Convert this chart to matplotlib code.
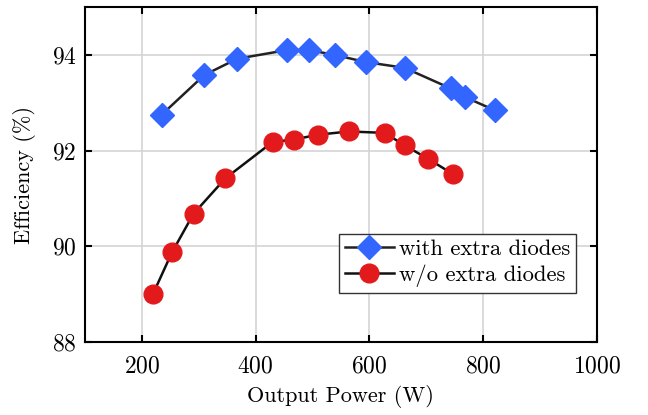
import matplotlib
matplotlib.use("Agg")
import matplotlib.pyplot as plt

# data --------------------------------------------------------------
power_with = [235, 310, 368, 455, 494, 539, 594, 662, 743, 768, 821]
eff_with = [92.75, 93.58, 93.92, 94.10, 94.10, 94.00, 93.85, 93.73, 93.30, 93.12, 92.84]

power_wo = [220, 253, 291, 347, 430, 467, 509, 564, 627, 662, 703, 747]
eff_wo = [89.01, 89.87, 90.68, 91.42, 92.18, 92.23, 92.33, 92.40, 92.37, 92.11, 91.83, 91.51]

x_ticks = [200, 400, 600, 800, 1000]
y_ticks = [88, 90, 92, 94]

plt.rcParams['font.family'] = 'serif'
plt.rcParams['font.serif'] = ['cmr10']
plt.rcParams['mathtext.fontset'] = 'cm'
plt.rcParams['axes.formatter.use_mathtext'] = True

fig = plt.figure(figsize=(6.48, 4.15), dpi=100)
ax = fig.add_axes([0.131, 0.176, 0.790, 0.807])

ax.plot(power_with, eff_with, color='#222222', lw=1.8, marker='D', ms=12,
        mfc='#3366ff', mec='#3366ff', label='with extra diodes', zorder=3)
ax.plot(power_wo, eff_wo, color='#111111', lw=1.8, marker='o', ms=13.5,
        mfc='#e31a1c', mec='#e31a1c', label='w/o extra diodes', zorder=3)

ax.set_xlim(100, 1000)
ax.set_ylim(88, 95)
ax.set_xticks(x_ticks)
ax.set_yticks(y_ticks)
ax.grid(True, color='#d4d4d4', lw=1.2)
ax.set_axisbelow(True)
ax.tick_params(direction='in', top=True, right=True, length=5, width=1.5,
               labelsize=17)
ax.tick_params(axis='x', pad=10)
ax.tick_params(axis='y', pad=6)
for s in ax.spines.values():
    s.set_linewidth(1.5)

ax.set_xlabel('Output Power (W)', fontsize=16, labelpad=5)
ax.set_ylabel('Efficiency (%)', fontsize=16, labelpad=11)

leg = ax.legend(loc='lower right', bbox_to_anchor=(0.959, 0.146), fontsize=16.3,
                fancybox=False, framealpha=1, edgecolor='#333333',
                handlelength=2.2, borderpad=0.25, labelspacing=0.25,
                handletextpad=0.2, borderaxespad=0.0)
leg.get_frame().set_linewidth(1.0)

fig.savefig('out.png', dpi=100)
